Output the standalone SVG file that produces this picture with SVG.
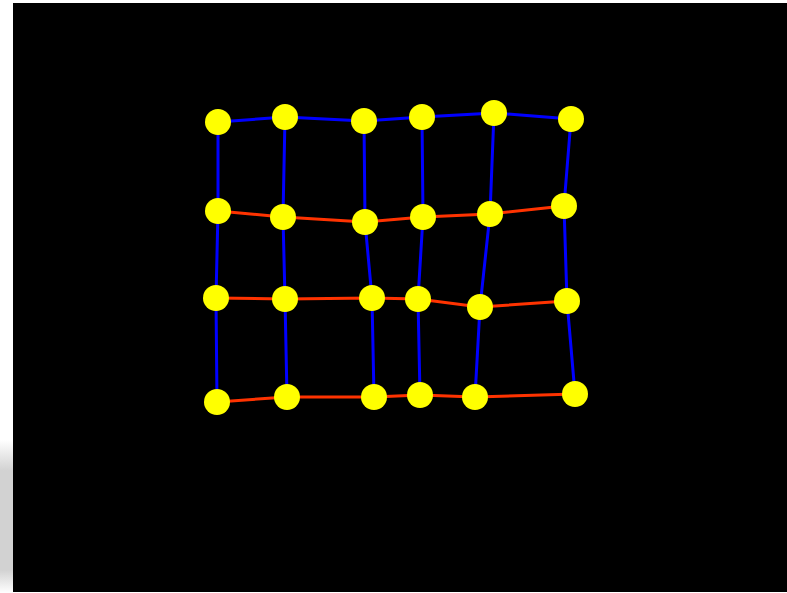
<svg xmlns="http://www.w3.org/2000/svg" width="787" height="593" viewBox="0 0 787 593">
<defs>
<linearGradient id="strip" x1="0" y1="0" x2="0" y2="1">
<stop offset="0" stop-color="#ffffff"/>
<stop offset="0.2" stop-color="#d2d2d2"/>
<stop offset="0.85" stop-color="#d2d2d2"/>
<stop offset="1" stop-color="#ffffff"/>
</linearGradient>
<style>
.b{stroke:#0000ff;stroke-width:3;fill:none}
.r{stroke:#ff3300;stroke-width:3;fill:none}
.n{fill:#ffff00}
</style>
</defs>
<rect x="0" y="0" width="787" height="593" fill="#ffffff"/>
<rect x="0" y="440" width="13" height="153" fill="url(#strip)"/>
<rect x="13" y="3" width="774" height="589" fill="#000000"/>
<g id="connectors">
<polyline class="b" points="218,122 285,117 364,121 422,117 494,113 571,119"/>
<polyline class="r" points="218,211 283,217 365,222 423,217 490,214 564,206"/>
<polyline class="r" points="216,298 285,299 372,298 418,299 480,307 567,301"/>
<polyline class="r" points="217,402 287,397 374,397 420,395 475,397 575,394"/>
<polyline class="b" points="218,122 218,211 216,298 217,402"/>
<polyline class="b" points="285,117 283,217 285,299 287,397"/>
<polyline class="b" points="364,121 365,222 372,298 374,397"/>
<polyline class="b" points="422,117 423,217 418,299 420,395"/>
<polyline class="b" points="494,113 490,214 480,307 475,397"/>
<polyline class="b" points="571,119 564,206 567,301 575,394"/>
</g>
<g id="n11"><circle class="n" cx="218" cy="122" r="13"/></g>
<g id="n12"><circle class="n" cx="285" cy="117" r="13"/></g>
<g id="n13"><circle class="n" cx="364" cy="121" r="13"/></g>
<g id="n14"><circle class="n" cx="422" cy="117" r="13"/></g>
<g id="n15"><circle class="n" cx="494" cy="113" r="13"/></g>
<g id="n16"><circle class="n" cx="571" cy="119" r="13"/></g>
<g id="n21"><circle class="n" cx="218" cy="211" r="13"/></g>
<g id="n22"><circle class="n" cx="283" cy="217" r="13"/></g>
<g id="n23"><circle class="n" cx="365" cy="222" r="13"/></g>
<g id="n24"><circle class="n" cx="423" cy="217" r="13"/></g>
<g id="n25"><circle class="n" cx="490" cy="214" r="13"/></g>
<g id="n26"><circle class="n" cx="564" cy="206" r="13"/></g>
<g id="n31"><circle class="n" cx="216" cy="298" r="13"/></g>
<g id="n32"><circle class="n" cx="285" cy="299" r="13"/></g>
<g id="n33"><circle class="n" cx="372" cy="298" r="13"/></g>
<g id="n34"><circle class="n" cx="418" cy="299" r="13"/></g>
<g id="n35"><circle class="n" cx="480" cy="307" r="13"/></g>
<g id="n36"><circle class="n" cx="567" cy="301" r="13"/></g>
<g id="n41"><circle class="n" cx="217" cy="402" r="13"/></g>
<g id="n42"><circle class="n" cx="287" cy="397" r="13"/></g>
<g id="n43"><circle class="n" cx="374" cy="397" r="13"/></g>
<g id="n44"><circle class="n" cx="420" cy="395" r="13"/></g>
<g id="n45"><circle class="n" cx="475" cy="397" r="13"/></g>
<g id="n46"><circle class="n" cx="575" cy="394" r="13"/></g>
</svg>
